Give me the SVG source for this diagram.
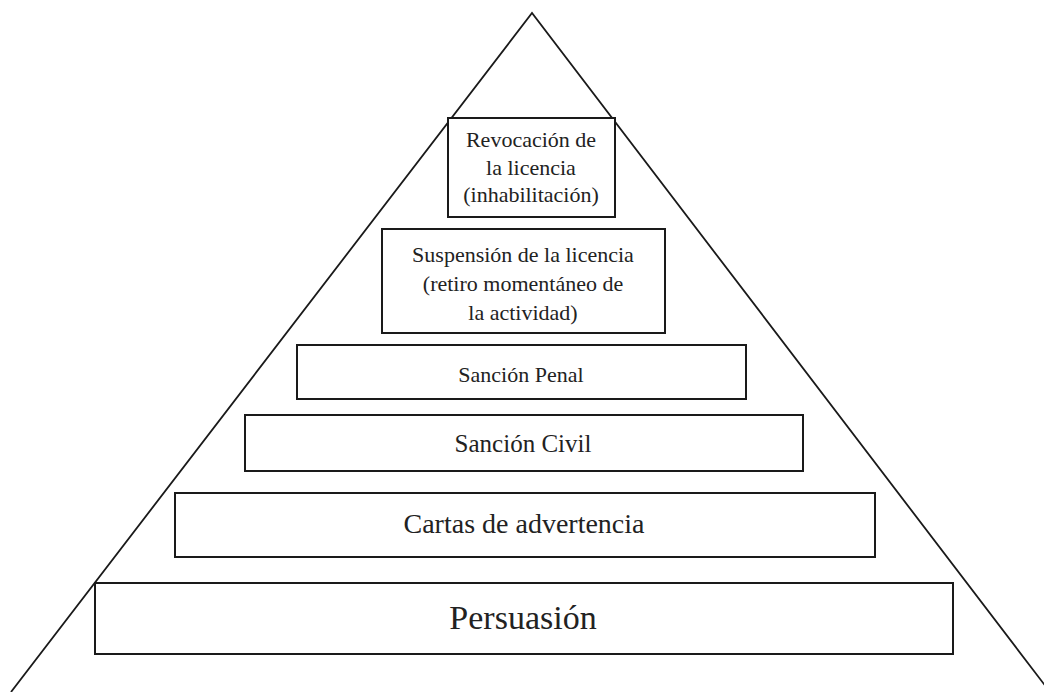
<svg xmlns="http://www.w3.org/2000/svg" width="1044" height="692" viewBox="0 0 1044 692">
<style>
.box{fill:#ffffff;stroke:#1a1a1a;stroke-width:2}
.edge{fill:none;stroke:#1a1a1a;stroke-width:1.8}
text{font-family:"Liberation Serif","Times New Roman",serif;fill:#222;text-anchor:middle}
.s{font-size:22px}
.m{font-size:25px}
.l{font-size:28px}
.xl{font-size:34px}
</style>
<rect x="0" y="0" width="1044" height="692" fill="#ffffff"/>
<g id="connectors">
<polyline class="edge" points="11,692 532,13 1050,692"/>
</g>
<g id="revocacion">
<rect class="box" x="448" y="118" width="167" height="99"/>
<text class="s" x="531" y="147">Revocación de</text>
<text class="s" x="531" y="175">la licencia</text>
<text class="s" x="531" y="202">(inhabilitación)</text>
</g>
<g id="suspension">
<rect class="box" x="382" y="229" width="283" height="104"/>
<text class="s" x="523" y="262">Suspensión de la licencia</text>
<text class="s" x="523" y="291">(retiro momentáneo de</text>
<text class="s" x="523" y="320">la actividad)</text>
</g>
<g id="penal">
<rect class="box" x="297" y="345" width="449" height="54"/>
<text class="s" x="521" y="382">Sanción Penal</text>
</g>
<g id="civil">
<rect class="box" x="245" y="415" width="558" height="56"/>
<text class="m" x="523" y="452">Sanción Civil</text>
</g>
<g id="cartas">
<rect class="box" x="175" y="493" width="700" height="64"/>
<text class="l" x="524" y="533">Cartas de advertencia</text>
</g>
<g id="persuasion">
<rect class="box" x="95" y="583" width="858" height="71"/>
<text class="xl" x="523" y="629">Persuasión</text>
</g>
</svg>
